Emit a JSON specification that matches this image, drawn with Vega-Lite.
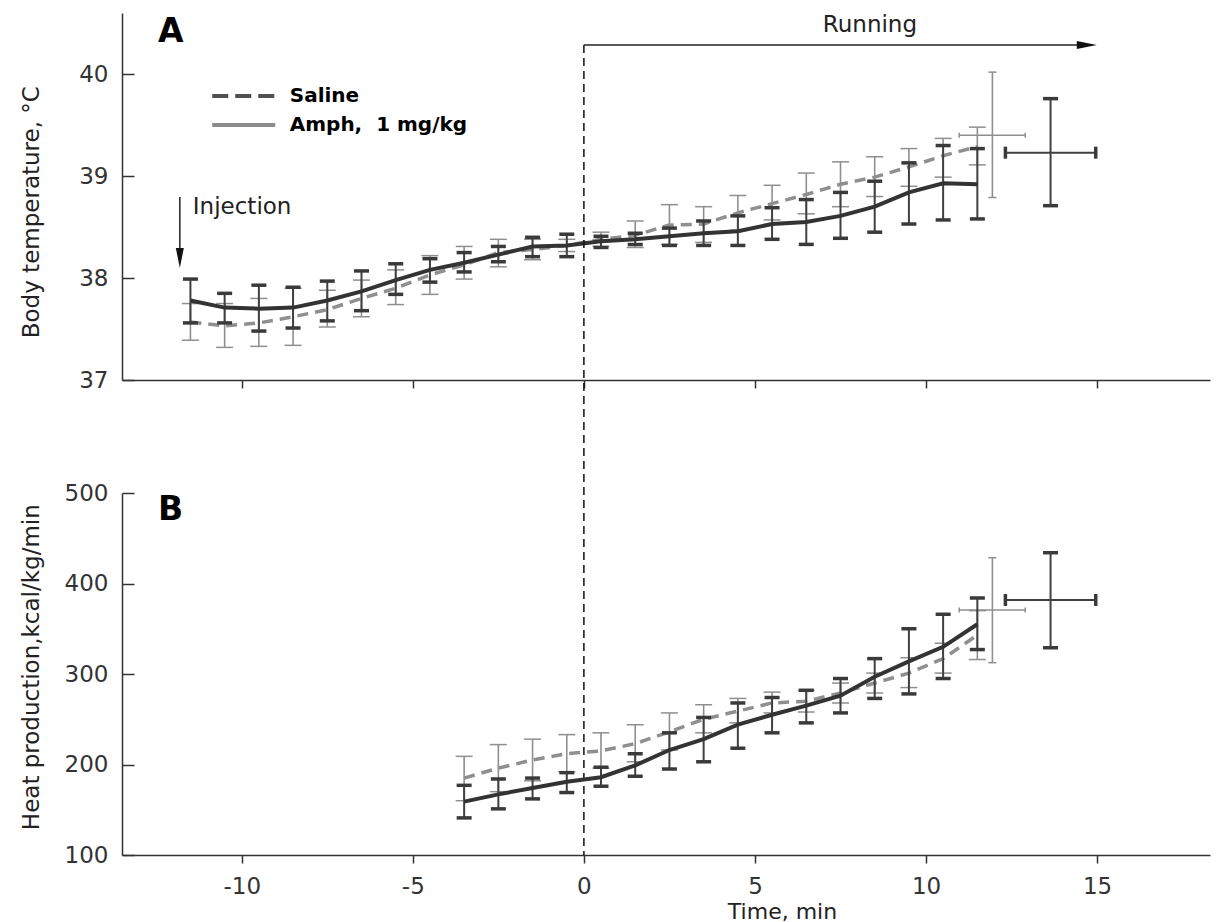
{
  "$schema": "https://vega.github.io/schema/vega-lite/v6.json",
  "width": 1088,
  "height": 842,
  "autosize": {"type": "none"},
  "padding": {"left": 122, "top": 13, "right": 8, "bottom": 67},
  "config": {
    "view": {"stroke": null},
    "font": "DejaVu Sans",
    "axis": {
      "grid": false,
      "domainColor": "#333333",
      "domainWidth": 1.5,
      "tickColor": "#333333",
      "tickWidth": 1.5,
      "labelColor": "#333333",
      "labelFont": "DejaVu Sans",
      "labelFontSize": 23,
      "titleFont": "DejaVu Sans",
      "titleFontSize": 23,
      "titleFontWeight": "normal",
      "titleColor": "#222222"
    }
  },
  "datasets": {
    "A": [
      {"group": "Saline", "kind": "ts", "t": -11.5, "m": 37.57, "lo": 37.39, "hi": 37.75},
      {"group": "Saline", "kind": "ts", "t": -10.5, "m": 37.53, "lo": 37.32, "hi": 37.75},
      {"group": "Saline", "kind": "ts", "t": -9.5, "m": 37.56, "lo": 37.33, "hi": 37.80},
      {"group": "Saline", "kind": "ts", "t": -8.5, "m": 37.62, "lo": 37.34, "hi": 37.90},
      {"group": "Saline", "kind": "ts", "t": -7.5, "m": 37.69, "lo": 37.52, "hi": 37.88},
      {"group": "Saline", "kind": "ts", "t": -6.5, "m": 37.80, "lo": 37.62, "hi": 37.98},
      {"group": "Saline", "kind": "ts", "t": -5.5, "m": 37.90, "lo": 37.74, "hi": 38.08},
      {"group": "Saline", "kind": "ts", "t": -4.5, "m": 38.03, "lo": 37.84, "hi": 38.22},
      {"group": "Saline", "kind": "ts", "t": -3.5, "m": 38.13, "lo": 37.99, "hi": 38.31},
      {"group": "Saline", "kind": "ts", "t": -2.5, "m": 38.25, "lo": 38.11, "hi": 38.38},
      {"group": "Saline", "kind": "ts", "t": -1.5, "m": 38.28, "lo": 38.18, "hi": 38.38},
      {"group": "Saline", "kind": "ts", "t": -0.5, "m": 38.32, "lo": 38.26, "hi": 38.38},
      {"group": "Saline", "kind": "ts", "t": 0.5, "m": 38.38, "lo": 38.31, "hi": 38.45},
      {"group": "Saline", "kind": "ts", "t": 1.5, "m": 38.42, "lo": 38.30, "hi": 38.56},
      {"group": "Saline", "kind": "ts", "t": 2.5, "m": 38.52, "lo": 38.33, "hi": 38.72},
      {"group": "Saline", "kind": "ts", "t": 3.5, "m": 38.53, "lo": 38.35, "hi": 38.70},
      {"group": "Saline", "kind": "ts", "t": 4.5, "m": 38.64, "lo": 38.47, "hi": 38.81},
      {"group": "Saline", "kind": "ts", "t": 5.5, "m": 38.73, "lo": 38.57, "hi": 38.91},
      {"group": "Saline", "kind": "ts", "t": 6.5, "m": 38.82, "lo": 38.63, "hi": 39.03},
      {"group": "Saline", "kind": "ts", "t": 7.5, "m": 38.92, "lo": 38.70, "hi": 39.14},
      {"group": "Saline", "kind": "ts", "t": 8.5, "m": 38.99, "lo": 38.80, "hi": 39.19},
      {"group": "Saline", "kind": "ts", "t": 9.5, "m": 39.09, "lo": 38.90, "hi": 39.27},
      {"group": "Saline", "kind": "ts", "t": 10.5, "m": 39.20, "lo": 38.99, "hi": 39.37},
      {"group": "Saline", "kind": "ts", "t": 11.5, "m": 39.29, "lo": 39.11, "hi": 39.48},
      {"group": "Saline", "kind": "sum", "t": 11.94, "m": 39.40, "lo": 38.79, "hi": 40.02, "xlo": 10.97, "xhi": 12.90},
      {"group": "Amph", "kind": "ts", "t": -11.5, "m": 37.78, "lo": 37.56, "hi": 37.99},
      {"group": "Amph", "kind": "ts", "t": -10.5, "m": 37.71, "lo": 37.56, "hi": 37.85},
      {"group": "Amph", "kind": "ts", "t": -9.5, "m": 37.70, "lo": 37.48, "hi": 37.93},
      {"group": "Amph", "kind": "ts", "t": -8.5, "m": 37.71, "lo": 37.51, "hi": 37.91},
      {"group": "Amph", "kind": "ts", "t": -7.5, "m": 37.78, "lo": 37.58, "hi": 37.97},
      {"group": "Amph", "kind": "ts", "t": -6.5, "m": 37.87, "lo": 37.68, "hi": 38.07},
      {"group": "Amph", "kind": "ts", "t": -5.5, "m": 37.98, "lo": 37.84, "hi": 38.14},
      {"group": "Amph", "kind": "ts", "t": -4.5, "m": 38.08, "lo": 37.96, "hi": 38.19},
      {"group": "Amph", "kind": "ts", "t": -3.5, "m": 38.15, "lo": 38.06, "hi": 38.25},
      {"group": "Amph", "kind": "ts", "t": -2.5, "m": 38.23, "lo": 38.16, "hi": 38.31},
      {"group": "Amph", "kind": "ts", "t": -1.5, "m": 38.31, "lo": 38.21, "hi": 38.40},
      {"group": "Amph", "kind": "ts", "t": -0.5, "m": 38.32, "lo": 38.21, "hi": 38.43},
      {"group": "Amph", "kind": "ts", "t": 0.5, "m": 38.36, "lo": 38.30, "hi": 38.41},
      {"group": "Amph", "kind": "ts", "t": 1.5, "m": 38.38, "lo": 38.33, "hi": 38.44},
      {"group": "Amph", "kind": "ts", "t": 2.5, "m": 38.41, "lo": 38.32, "hi": 38.49},
      {"group": "Amph", "kind": "ts", "t": 3.5, "m": 38.44, "lo": 38.32, "hi": 38.56},
      {"group": "Amph", "kind": "ts", "t": 4.5, "m": 38.46, "lo": 38.32, "hi": 38.61},
      {"group": "Amph", "kind": "ts", "t": 5.5, "m": 38.53, "lo": 38.38, "hi": 38.69},
      {"group": "Amph", "kind": "ts", "t": 6.5, "m": 38.55, "lo": 38.33, "hi": 38.77},
      {"group": "Amph", "kind": "ts", "t": 7.5, "m": 38.61, "lo": 38.39, "hi": 38.84},
      {"group": "Amph", "kind": "ts", "t": 8.5, "m": 38.70, "lo": 38.45, "hi": 38.95},
      {"group": "Amph", "kind": "ts", "t": 9.5, "m": 38.84, "lo": 38.53, "hi": 39.13},
      {"group": "Amph", "kind": "ts", "t": 10.5, "m": 38.93, "lo": 38.57, "hi": 39.30},
      {"group": "Amph", "kind": "ts", "t": 11.5, "m": 38.92, "lo": 38.58, "hi": 39.27},
      {"group": "Amph", "kind": "sum", "t": 13.64, "m": 39.23, "lo": 38.71, "hi": 39.76, "xlo": 12.32, "xhi": 14.96}
    ],
    "B": [
      {"group": "Saline", "kind": "ts", "t": -3.5, "m": 185, "lo": 160, "hi": 209},
      {"group": "Saline", "kind": "ts", "t": -2.5, "m": 196, "lo": 170, "hi": 222},
      {"group": "Saline", "kind": "ts", "t": -1.5, "m": 205, "lo": 182, "hi": 228},
      {"group": "Saline", "kind": "ts", "t": -0.5, "m": 212, "lo": 192, "hi": 233},
      {"group": "Saline", "kind": "ts", "t": 0.5, "m": 215, "lo": 196, "hi": 235},
      {"group": "Saline", "kind": "ts", "t": 1.5, "m": 223, "lo": 203, "hi": 244},
      {"group": "Saline", "kind": "ts", "t": 2.5, "m": 236, "lo": 216, "hi": 257},
      {"group": "Saline", "kind": "ts", "t": 3.5, "m": 250, "lo": 235, "hi": 266},
      {"group": "Saline", "kind": "ts", "t": 4.5, "m": 259, "lo": 246, "hi": 273},
      {"group": "Saline", "kind": "ts", "t": 5.5, "m": 268, "lo": 257, "hi": 280},
      {"group": "Saline", "kind": "ts", "t": 6.5, "m": 270, "lo": 258, "hi": 282},
      {"group": "Saline", "kind": "ts", "t": 7.5, "m": 279, "lo": 268, "hi": 290},
      {"group": "Saline", "kind": "ts", "t": 8.5, "m": 290, "lo": 279, "hi": 301},
      {"group": "Saline", "kind": "ts", "t": 9.5, "m": 301, "lo": 285, "hi": 318},
      {"group": "Saline", "kind": "ts", "t": 10.5, "m": 317, "lo": 301, "hi": 334},
      {"group": "Saline", "kind": "ts", "t": 11.5, "m": 343, "lo": 316, "hi": 370},
      {"group": "Saline", "kind": "sum", "t": 11.94, "m": 370.7, "lo": 312.5, "hi": 428.5, "xlo": 10.97, "xhi": 12.90},
      {"group": "Amph", "kind": "ts", "t": -3.5, "m": 159, "lo": 141, "hi": 177},
      {"group": "Amph", "kind": "ts", "t": -2.5, "m": 167, "lo": 151, "hi": 184},
      {"group": "Amph", "kind": "ts", "t": -1.5, "m": 174, "lo": 162, "hi": 185},
      {"group": "Amph", "kind": "ts", "t": -0.5, "m": 181, "lo": 169, "hi": 191},
      {"group": "Amph", "kind": "ts", "t": 0.5, "m": 186, "lo": 176, "hi": 197},
      {"group": "Amph", "kind": "ts", "t": 1.5, "m": 199, "lo": 187, "hi": 212},
      {"group": "Amph", "kind": "ts", "t": 2.5, "m": 216, "lo": 195, "hi": 235},
      {"group": "Amph", "kind": "ts", "t": 3.5, "m": 228, "lo": 203, "hi": 252},
      {"group": "Amph", "kind": "ts", "t": 4.5, "m": 244, "lo": 218, "hi": 268},
      {"group": "Amph", "kind": "ts", "t": 5.5, "m": 255, "lo": 235, "hi": 274},
      {"group": "Amph", "kind": "ts", "t": 6.5, "m": 265, "lo": 246, "hi": 282},
      {"group": "Amph", "kind": "ts", "t": 7.5, "m": 276, "lo": 257, "hi": 295},
      {"group": "Amph", "kind": "ts", "t": 8.5, "m": 297, "lo": 273, "hi": 317},
      {"group": "Amph", "kind": "ts", "t": 9.5, "m": 314, "lo": 278, "hi": 350},
      {"group": "Amph", "kind": "ts", "t": 10.5, "m": 330, "lo": 295, "hi": 366},
      {"group": "Amph", "kind": "ts", "t": 11.5, "m": 355, "lo": 327, "hi": 384},
      {"group": "Amph", "kind": "sum", "t": 13.64, "m": 381.8, "lo": 329, "hi": 434, "xlo": 12.32, "xhi": 14.96}
    ]
  },
  "layer": [
    {
      "layer": [
        {
          "data": {"name": "A"},
          "transform": [{"filter": "datum.group === 'Saline'"}],
          "mark": {"type": "rule", "color": "#8f8f8f", "strokeWidth": 1.6},
          "encoding": {
            "x": {"field": "t", "type": "quantitative",
                  "scale": {"domain": [-13.5, 18.3], "nice": false, "zero": false},
                  "axis": {"orient": "bottom", "offset": -475, "values": [-10, -5, 0, 5, 10, 15], "labels": false, "title": null, "tickSize": 8}},
            "y": {"field": "lo", "type": "quantitative",
                  "scale": {"domain": [37, 40.6], "range": [367, 0], "nice": false, "zero": false},
                  "axis": {"orient": "left", "values": [37, 38, 39, 40], "format": "d", "tickSize": -12, "labelPadding": 26,
                           "title": "Body temperature, °C", "titleX": -79, "titleY": 198.7}},
            "y2": {"field": "hi"}
          }
        },
        {
          "data": {"name": "A"},
          "transform": [{"filter": "datum.group === 'Saline' && datum.kind === 'ts'"}, {"fold": ["lo", "hi"]}],
          "mark": {"type": "tick", "orient": "horizontal", "color": "#8f8f8f", "size": 17, "thickness": 1.5, "opacity": 1},
          "encoding": {"x": {"field": "t", "type": "quantitative"}, "y": {"field": "value", "type": "quantitative"}}
        },
        {
          "data": {"name": "A"},
          "transform": [{"filter": "datum.group === 'Saline' && datum.kind === 'sum'"}, {"fold": ["lo", "hi"]}],
          "mark": {"type": "tick", "orient": "horizontal", "color": "#8f8f8f", "size": 8, "thickness": 1.5, "opacity": 1},
          "encoding": {"x": {"field": "t", "type": "quantitative"}, "y": {"field": "value", "type": "quantitative"}}
        },
        {
          "data": {"name": "A"},
          "transform": [{"filter": "datum.group === 'Saline' && datum.kind === 'sum'"}],
          "mark": {"type": "rule", "color": "#8f8f8f", "strokeWidth": 1.5},
          "encoding": {"x": {"field": "xlo", "type": "quantitative"}, "x2": {"field": "xhi"}, "y": {"field": "m", "type": "quantitative"}}
        },
        {
          "data": {"name": "A"},
          "transform": [{"filter": "datum.group === 'Saline' && datum.kind === 'sum'"}, {"fold": ["xlo", "xhi"]}],
          "mark": {"type": "tick", "orient": "vertical", "color": "#8f8f8f", "size": 5, "thickness": 1.5, "opacity": 1},
          "encoding": {"x": {"field": "value", "type": "quantitative"}, "y": {"field": "m", "type": "quantitative"}}
        },
        {
          "data": {"name": "A"},
          "transform": [{"filter": "datum.group === 'Saline' && datum.kind === 'ts'"}],
          "mark": {"type": "line", "color": "#8f8f8f", "strokeWidth": 3.5, "strokeDash": [11, 7]},
          "encoding": {"x": {"field": "t", "type": "quantitative"}, "y": {"field": "m", "type": "quantitative"}}
        },
        {
          "data": {"name": "A"},
          "transform": [{"filter": "datum.t > 100"}],
          "mark": {"type": "line", "strokeWidth": 4},
          "encoding": {
            "x": {"field": "t", "type": "quantitative"},
            "y": {"field": "m", "type": "quantitative"},
            "color": {
              "field": "group", "type": "nominal",
              "scale": {"domain": ["Saline", "Amph,\u00a0 1 mg/kg"], "range": ["#505050", "#8c8c8c"]},
              "legend": {
                "orient": "none", "legendX": 103.75, "legendY": 65, "title": null, "padding": 0,
                "symbolType": "M-2,0L2,0", "symbolSize": 992, "symbolStrokeWidth": 4, "symbolFillColor": "transparent",
                "labelFont": "DejaVu Sans", "labelFontSize": 20, "labelFontWeight": "bold", "labelColor": "#000000",
                "labelOffset": 28, "rowPadding": 1, "labelLimit": 400
              }
            },
            "strokeDash": {
              "field": "group", "type": "nominal",
              "scale": {"domain": ["Saline", "Amph,\u00a0 1 mg/kg"], "range": [[16, 7], [1, 0]]},
              "legend": {
                "orient": "none", "legendX": 103.75, "legendY": 65, "title": null, "padding": 0,
                "symbolType": "M-2,0L2,0", "symbolSize": 992, "symbolStrokeWidth": 4, "symbolFillColor": "transparent",
                "labelFont": "DejaVu Sans", "labelFontSize": 20, "labelFontWeight": "bold", "labelColor": "#000000",
                "labelOffset": 28, "rowPadding": 1, "labelLimit": 400
              }
            }
          }
        },
        {
          "data": {"name": "A"},
          "transform": [{"filter": "datum.group === 'Amph'"}],
          "mark": {"type": "rule", "color": "#404040", "strokeWidth": 2},
          "encoding": {"x": {"field": "t", "type": "quantitative"}, "y": {"field": "lo", "type": "quantitative"}, "y2": {"field": "hi"}}
        },
        {
          "data": {"name": "A"},
          "transform": [{"filter": "datum.group === 'Amph'"}, {"fold": ["lo", "hi"]}],
          "mark": {"type": "tick", "orient": "horizontal", "color": "#3a3a3a", "size": 15, "thickness": 3.5, "opacity": 1},
          "encoding": {"x": {"field": "t", "type": "quantitative"}, "y": {"field": "value", "type": "quantitative"}}
        },
        {
          "data": {"name": "A"},
          "transform": [{"filter": "datum.group === 'Amph' && datum.kind === 'sum'"}],
          "mark": {"type": "rule", "color": "#404040", "strokeWidth": 2},
          "encoding": {"x": {"field": "xlo", "type": "quantitative"}, "x2": {"field": "xhi"}, "y": {"field": "m", "type": "quantitative"}}
        },
        {
          "data": {"name": "A"},
          "transform": [{"filter": "datum.group === 'Amph' && datum.kind === 'sum'"}, {"fold": ["xlo", "xhi"]}],
          "mark": {"type": "tick", "orient": "vertical", "color": "#3a3a3a", "size": 12, "thickness": 3.5, "opacity": 1},
          "encoding": {"x": {"field": "value", "type": "quantitative"}, "y": {"field": "m", "type": "quantitative"}}
        },
        {
          "data": {"name": "A"},
          "transform": [{"filter": "datum.group === 'Amph' && datum.kind === 'ts'"}],
          "mark": {"type": "line", "color": "#333333", "strokeWidth": 4},
          "encoding": {"x": {"field": "t", "type": "quantitative"}, "y": {"field": "m", "type": "quantitative"}}
        },
        {
          "data": {"values": [{"t": 0, "ytop": 40.286, "ybot": 32.34}]},
          "mark": {"type": "rule", "color": "#111111", "strokeWidth": 1.5, "strokeDash": [8, 5]},
          "encoding": {"x": {"field": "t", "type": "quantitative"}, "y": {"field": "ytop", "type": "quantitative"}, "y2": {"field": "ybot"}}
        },
        {
          "data": {"values": [{"a": 0, "b": 14.7, "v": 40.286}]},
          "mark": {"type": "rule", "color": "#222222", "strokeWidth": 1.5},
          "encoding": {"x": {"field": "a", "type": "quantitative"}, "x2": {"field": "b"}, "y": {"field": "v", "type": "quantitative"}}
        },
        {
          "data": {"values": [{"a": 14.7, "v": 40.286}]},
          "mark": {"type": "point", "shape": "M-1,-0.4L-1,0.4L1,0Z", "size": 400, "filled": true, "color": "#111111", "opacity": 1},
          "encoding": {"x": {"field": "a", "type": "quantitative"}, "y": {"field": "v", "type": "quantitative"}}
        },
        {
          "data": {"values": [{"a": -11.81, "v1": 38.795, "v2": 38.197}]},
          "mark": {"type": "rule", "color": "#222222", "strokeWidth": 1.5},
          "encoding": {"x": {"field": "a", "type": "quantitative"}, "y": {"field": "v1", "type": "quantitative"}, "y2": {"field": "v2"}}
        },
        {
          "data": {"values": [{"a": -11.81, "v": 38.197}]},
          "mark": {"type": "point", "shape": "M-0.4,-1L0.4,-1L0,1Z", "size": 400, "filled": true, "color": "#111111", "opacity": 1},
          "encoding": {"x": {"field": "a", "type": "quantitative"}, "y": {"field": "v", "type": "quantitative"}}
        },
        {
          "data": {"values": [{"a": -11.43, "v": 38.628, "label": "Injection"}]},
          "mark": {"type": "text", "align": "left", "baseline": "alphabetic", "font": "DejaVu Sans", "fontSize": 23, "color": "#222222"},
          "encoding": {"x": {"field": "a", "type": "quantitative"}, "y": {"field": "v", "type": "quantitative"}, "text": {"field": "label"}}
        },
        {
          "data": {"values": [{"a": 8.36, "v": 40.414, "label": "Running"}]},
          "mark": {"type": "text", "align": "center", "baseline": "alphabetic", "font": "DejaVu Sans", "fontSize": 23, "color": "#222222"},
          "encoding": {"x": {"field": "a", "type": "quantitative"}, "y": {"field": "v", "type": "quantitative"}, "text": {"field": "label"}}
        },
        {
          "data": {"values": [{"a": -12.45, "v": 40.316, "label": "A"}]},
          "mark": {"type": "text", "align": "left", "baseline": "alphabetic", "font": "DejaVu Sans", "fontSize": 33, "fontWeight": "bold", "color": "#000000"},
          "encoding": {"x": {"field": "a", "type": "quantitative"}, "y": {"field": "v", "type": "quantitative"}, "text": {"field": "label"}}
        }
      ]
    },
    {
      "layer": [
        {
          "data": {"name": "B"},
          "transform": [{"filter": "datum.group === 'Saline'"}],
          "mark": {"type": "rule", "color": "#8f8f8f", "strokeWidth": 1.6},
          "encoding": {
            "x": {"field": "t", "type": "quantitative",
                  "scale": {"domain": [-13.5, 18.3], "nice": false, "zero": false},
                  "axis": {"orient": "bottom", "values": [-10, -5, 0, 5, 10, 15], "labelExpr": "toString(datum.value)", "tickSize": 8, "labelPadding": 12,
                           "title": "Time, min", "titleFontSize": 22, "titleX": 660, "titleY": 63, "titleBaseline": "alphabetic", "titleAlign": "center"}},
            "y": {"field": "lo", "type": "quantitative",
                  "scale": {"domain": [100, 500], "range": [842, 480], "nice": false, "zero": false},
                  "axis": {"orient": "left", "values": [100, 200, 300, 400, 500], "format": "d", "tickSize": -12, "labelPadding": 26,
                           "title": "Heat production,kcal/kg/min", "titleX": -79, "titleY": 653.7}},
            "y2": {"field": "hi"}
          }
        },
        {
          "data": {"name": "B"},
          "transform": [{"filter": "datum.group === 'Saline' && datum.kind === 'ts'"}, {"fold": ["lo", "hi"]}],
          "mark": {"type": "tick", "orient": "horizontal", "color": "#8f8f8f", "size": 17, "thickness": 1.5, "opacity": 1},
          "encoding": {"x": {"field": "t", "type": "quantitative"}, "y": {"field": "value", "type": "quantitative"}}
        },
        {
          "data": {"name": "B"},
          "transform": [{"filter": "datum.group === 'Saline' && datum.kind === 'sum'"}, {"fold": ["lo", "hi"]}],
          "mark": {"type": "tick", "orient": "horizontal", "color": "#8f8f8f", "size": 8, "thickness": 1.5, "opacity": 1},
          "encoding": {"x": {"field": "t", "type": "quantitative"}, "y": {"field": "value", "type": "quantitative"}}
        },
        {
          "data": {"name": "B"},
          "transform": [{"filter": "datum.group === 'Saline' && datum.kind === 'sum'"}],
          "mark": {"type": "rule", "color": "#8f8f8f", "strokeWidth": 1.5},
          "encoding": {"x": {"field": "xlo", "type": "quantitative"}, "x2": {"field": "xhi"}, "y": {"field": "m", "type": "quantitative"}}
        },
        {
          "data": {"name": "B"},
          "transform": [{"filter": "datum.group === 'Saline' && datum.kind === 'sum'"}, {"fold": ["xlo", "xhi"]}],
          "mark": {"type": "tick", "orient": "vertical", "color": "#8f8f8f", "size": 5, "thickness": 1.5, "opacity": 1},
          "encoding": {"x": {"field": "value", "type": "quantitative"}, "y": {"field": "m", "type": "quantitative"}}
        },
        {
          "data": {"name": "B"},
          "transform": [{"filter": "datum.group === 'Saline' && datum.kind === 'ts'"}],
          "mark": {"type": "line", "color": "#8f8f8f", "strokeWidth": 3.5, "strokeDash": [11, 7]},
          "encoding": {"x": {"field": "t", "type": "quantitative"}, "y": {"field": "m", "type": "quantitative"}}
        },
        {
          "data": {"name": "B"},
          "transform": [{"filter": "datum.group === 'Amph'"}],
          "mark": {"type": "rule", "color": "#404040", "strokeWidth": 2},
          "encoding": {"x": {"field": "t", "type": "quantitative"}, "y": {"field": "lo", "type": "quantitative"}, "y2": {"field": "hi"}}
        },
        {
          "data": {"name": "B"},
          "transform": [{"filter": "datum.group === 'Amph'"}, {"fold": ["lo", "hi"]}],
          "mark": {"type": "tick", "orient": "horizontal", "color": "#3a3a3a", "size": 15, "thickness": 3.5, "opacity": 1},
          "encoding": {"x": {"field": "t", "type": "quantitative"}, "y": {"field": "value", "type": "quantitative"}}
        },
        {
          "data": {"name": "B"},
          "transform": [{"filter": "datum.group === 'Amph' && datum.kind === 'sum'"}],
          "mark": {"type": "rule", "color": "#404040", "strokeWidth": 2},
          "encoding": {"x": {"field": "xlo", "type": "quantitative"}, "x2": {"field": "xhi"}, "y": {"field": "m", "type": "quantitative"}}
        },
        {
          "data": {"name": "B"},
          "transform": [{"filter": "datum.group === 'Amph' && datum.kind === 'sum'"}, {"fold": ["xlo", "xhi"]}],
          "mark": {"type": "tick", "orient": "vertical", "color": "#3a3a3a", "size": 12, "thickness": 3.5, "opacity": 1},
          "encoding": {"x": {"field": "value", "type": "quantitative"}, "y": {"field": "m", "type": "quantitative"}}
        },
        {
          "data": {"name": "B"},
          "transform": [{"filter": "datum.group === 'Amph' && datum.kind === 'ts'"}],
          "mark": {"type": "line", "color": "#333333", "strokeWidth": 4},
          "encoding": {"x": {"field": "t", "type": "quantitative"}, "y": {"field": "m", "type": "quantitative"}}
        },
        {
          "data": {"values": [{"a": -12.45, "v": 470.2, "label": "B"}]},
          "mark": {"type": "text", "align": "left", "baseline": "alphabetic", "font": "DejaVu Sans", "fontSize": 33, "fontWeight": "bold", "color": "#000000"},
          "encoding": {"x": {"field": "a", "type": "quantitative"}, "y": {"field": "v", "type": "quantitative"}, "text": {"field": "label"}}
        }
      ]
    }
  ],
  "resolve": {"scale": {"x": "independent", "y": "independent"}}
}
